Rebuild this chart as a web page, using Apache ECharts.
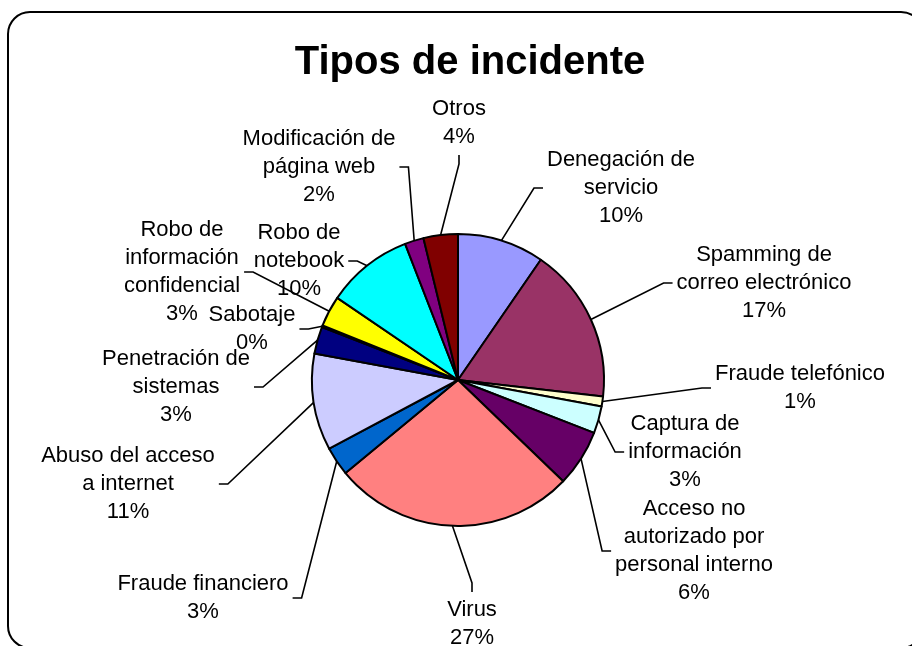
<!DOCTYPE html>
<html>
<head>
<meta charset="utf-8">
<title>Tipos de incidente</title>
<script src="https://cdn.jsdelivr.net/npm/echarts@6/dist/echarts.min.js"></script>
<style>
  html, body { margin: 0; padding: 0; background: #fff; }
  #chart { width: 912px; height: 646px; }
</style>
</head>
<body>
<div id="chart"></div>
<script>
// categorías, con los saltos de línea del rótulo original
const categories = [
  "Denegación de\nservicio",
  "Spamming de\ncorreo electrónico",
  "Fraude telefónico",
  "Captura de\ninformación",
  "Acceso no\nautorizado por\npersonal interno",
  "Virus",
  "Fraude financiero",
  "Abuso del acceso\na internet",
  "Penetración de\nsistemas",
  "Sabotaje",
  "Robo de\ninformación\nconfidencial",
  "Robo de\nnotebook",
  "Modificación de\npágina web",
  "Otros"
];
// porcentaje de incidentes
const values = [9.6, 17.2, 1.1, 3.0, 6.3, 26.8, 3.2, 10.7, 3.0, 0.2, 3.4, 9.6, 2.1, 3.8];
// paleta de Excel
const colors = [
  "#9999FF", "#993366", "#FFFFCC", "#CCFFFF", "#660066", "#FF8080", "#0066CC",
  "#CCCCFF", "#000080", "#FF00FF", "#FFFF00", "#00FFFF", "#800080", "#800000"
];
// centro de cada rótulo
const labelPos = [
  [621, 188], [764, 283], [800, 388], [685, 452], [694, 551], [472, 624], [203, 598],
  [128, 484], [176, 387], [252, 329], [182, 272], [299, 261], [319, 167], [459, 123]
];

const FONT = '"Liberation Sans", Arial, sans-serif';
const TICK = 9;
const GAP = 4;

const chart = echarts.init(document.getElementById("chart"));

chart.setOption({
  animation: false,
  backgroundColor: "#fff",
  title: {
    text: "Tipos de incidente",
    left: 465,
    top: 38,
    textAlign: "center",
    textStyle: { fontFamily: FONT, fontSize: 40, fontWeight: "bold", color: "#000" }
  },
  graphic: [{
    type: "rect",
    shape: { x: 8, y: 12, width: 915, height: 636, r: 22 },
    style: { fill: "none", stroke: "#000", lineWidth: 2 },
    silent: true
  }],
  series: [{
    type: "pie",
    center: [458, 380],
    radius: 146,
    startAngle: 90,
    data: categories.map((name, i) => ({
      name: name,
      value: values[i],
      itemStyle: { color: colors[i] }
    })),
    itemStyle: { borderColor: "#000", borderWidth: 2 },
    label: {
      show: true,
      position: "outside",
      color: "#000",
      fontFamily: FONT,
      fontSize: 22,
      lineHeight: 28,
      formatter: p => p.name + "\n" + Math.round(p.percent) + "%"
    },
    labelLine: {
      show: true,
      length: 10,
      length2: 10,
      lineStyle: { color: "#000", width: 1.6 }
    },
    // rótulos en su sitio y guía con el trazo corto tipo Excel
    labelLayout: function (params) {
      const pos = labelPos[params.dataIndex];
      const lx = pos[0], ly = pos[1];
      const w = params.labelRect.width, h = params.labelRect.height;
      const p0 = params.labelLinePoints[0];
      const left = lx - w / 2, right = lx + w / 2;
      const top = ly - h / 2, bottom = ly + h / 2;
      let end, mid;
      if (p0[0] < left) {
        end = [left - GAP, ly];
        mid = [end[0] - TICK, ly];
      } else if (p0[0] > right) {
        end = [right + GAP, ly];
        mid = [end[0] + TICK, ly];
      } else if (p0[1] > bottom) {
        end = [lx, bottom + GAP];
        mid = [lx, end[1] + TICK];
      } else {
        end = [lx, top - GAP];
        mid = [lx, end[1] - TICK];
      }
      return {
        x: lx,
        y: ly,
        align: "center",
        verticalAlign: "middle",
        labelLinePoints: [p0, mid, end]
      };
    },
    emphasis: { disabled: true }
  }]
});
</script>
</body>
</html>
